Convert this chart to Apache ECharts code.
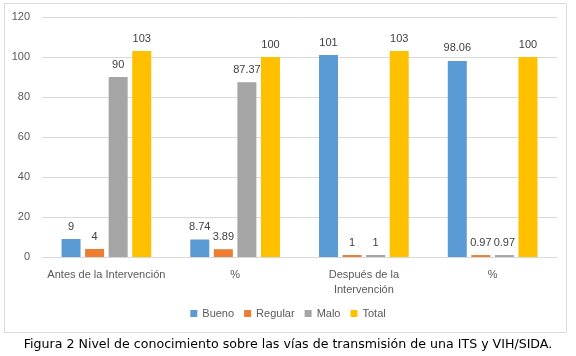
<!DOCTYPE html>
<html><head><meta charset="utf-8">
<script src="https://cdn.jsdelivr.net/npm/echarts@6/dist/echarts.min.js"></script>
<style>html,body{margin:0;padding:0;background:#fff}#c{width:576px;height:356px}</style>
</head><body><div id="c"></div>
<script>
var categories = ['Antes de la Intervención', '%', 'Después de la\nIntervención', '%'];
var seriesNames = ['Bueno', 'Regular', 'Malo', 'Total'];
var bueno = [9, 8.74, 101, 98.06];
var regular = [4, 3.89, 1, 0.97];
var malo = [90, 87.37, 1, 0.97];
var total = [103, 100, 103, 100];
var colors = ['#5b9bd5', '#ed7d31', '#a5a5a5', '#ffc000'];
var yTicks = [0, 20, 40, 60, 80, 100, 120];
var caption = 'Figura 2 Nivel de conocimiento sobre las vías de transmisión de una ITS y VIH/SIDA.';

var font = 'Liberation Sans';
var values = [bueno, regular, malo, total];
var chart = echarts.init(document.getElementById('c'));
chart.setOption({
  animation: false,
  textStyle: {fontFamily: font},
  grid: {left: 42, right: 19, top: 17, bottom: 99, containLabel: false},
  legend: {
    bottom: 32, left: 'center', itemWidth: 7, itemHeight: 7, itemGap: 10,
    icon: 'rect',
    textStyle: {color: '#595959', fontSize: 11, fontFamily: font},
    data: seriesNames
  },
  xAxis: {
    type: 'category', data: categories,
    axisLine: {lineStyle: {color: '#d9d9d9'}},
    axisTick: {show: false},
    axisLabel: {color: '#595959', fontSize: 11, margin: 10, lineHeight: 15, interval: 0}
  },
  yAxis: {
    type: 'value', min: yTicks[0], max: yTicks[yTicks.length - 1], interval: 20,
    axisLine: {show: false}, axisTick: {show: false},
    splitLine: {lineStyle: {color: '#d9d9d9'}},
    axisLabel: {color: '#595959', fontSize: 11, margin: 12}
  },
  graphic: [
    {type: 'rect', shape: {x: 4.5, y: 3.5, width: 562, height: 329}, style: {fill: 'none', stroke: '#d9d9d9', lineWidth: 1}, z: -1},
    {type: 'text', left: 'center', top: 338, style: {text: caption, font: '12.6px "DejaVu Sans"', fill: '#000'}}
  ],
  series: seriesNames.map(function (n, i) {
    return {
      name: n, type: 'bar', data: values[i], barWidth: 19, barGap: '24%',
      itemStyle: {color: colors[i]},
      label: {show: true, position: 'top', distance: 7, color: '#404040', fontSize: 11, fontFamily: font}
    };
  })
});
</script></body></html>
